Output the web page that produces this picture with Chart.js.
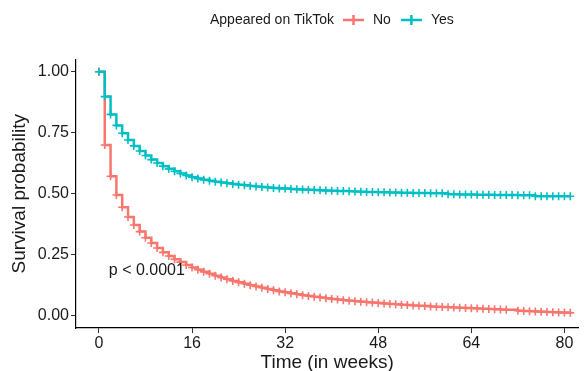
<!DOCTYPE html>
<html>
<head>
<meta charset="utf-8">
<script src="https://cdn.jsdelivr.net/npm/chart.js@4"></script>
<style>
  html, body { margin: 0; padding: 0; background: #fff; }
  #wrap { width: 584px; height: 371px; position: relative; }
</style>
</head>
<body>
<div id="wrap"><canvas id="km-chart"></canvas></div>
<script>
// weeks since first post
const weeks = [];
for (let w = 0; w <= 81; w++) weeks.push(w);

// Kaplan-Meier survival estimates
const survivalNo = [
  1.000, 0.700, 0.572, 0.495, 0.445, 0.405, 0.372, 0.345, 0.320, 0.298,
  0.278, 0.260, 0.245, 0.232, 0.220, 0.208, 0.198, 0.189, 0.180, 0.172,
  0.164, 0.157, 0.150, 0.143, 0.137, 0.131, 0.125, 0.120, 0.115, 0.110,
  0.105, 0.100, 0.096, 0.092, 0.088, 0.084, 0.081, 0.078, 0.075, 0.072,
  0.069, 0.067, 0.064, 0.062, 0.060, 0.058, 0.056, 0.054, 0.052, 0.050,
  0.048, 0.047, 0.045, 0.044, 0.042, 0.041, 0.040, 0.038, 0.037, 0.036,
  0.035, 0.034, 0.033, 0.032, 0.031, 0.030, 0.029, 0.028, 0.027, 0.026,
  0.025, null,  0.021, 0.020, 0.019, 0.018, 0.017, 0.016, 0.015, 0.014,
  0.013, 0.012
];
const survivalYes = [
  1.000, 0.898, 0.825, 0.780, 0.748, 0.720, 0.696, 0.675, 0.657, 0.640,
  0.626, 0.613, 0.602, 0.592, 0.583, 0.575, 0.568, 0.562, 0.557, 0.553,
  0.549, 0.546, 0.543, 0.540, 0.537, 0.535, 0.532, 0.530, 0.528, 0.526,
  0.524, 0.522, 0.521, 0.519, 0.518, 0.517, 0.516, 0.515, 0.514, 0.513,
  0.512, 0.511, 0.511, 0.510, 0.509, 0.508, 0.507, 0.507, 0.506, 0.506,
  0.505, 0.505, 0.504, 0.504, 0.503, 0.503, 0.503, 0.502, 0.502, 0.502,
  0.498, 0.498, 0.497, 0.497, 0.497, 0.496, 0.496, 0.496, 0.495, 0.495,
  0.495, 0.495, 0.494, 0.494, 0.494, 0.490, 0.490, 0.490, 0.490, 0.490,
  0.490, 0.490
];

const groupLabels = ['No', 'Yes'];
const groupColors = ['#F8766D', '#00BFC4'];
const legendTitle = 'Appeared on TikTok';
const xTicks = [0, 16, 32, 48, 64, 80];
const yTicks = [0, 0.25, 0.5, 0.75, 1];
const pValueText = 'p < 0.0001';

const FONT = '"Liberation Sans", Arial, Helvetica, sans-serif';
const INK = '#1a1a1a';

const toPoints = (vals) => weeks.map((w, i) => ({ x: w, y: vals[i] }));

// legend across the top, ggplot style
const topLegend = {
  id: 'topLegend',
  afterDraw(chart) {
    const ctx = chart.ctx;
    ctx.save();
    ctx.font = '14px ' + FONT;
    ctx.fillStyle = INK;
    ctx.textBaseline = 'middle';
    const y = 20;
    let x = 210;
    ctx.fillText(legendTitle, x, y);
    x += ctx.measureText(legendTitle).width + 9;
    groupLabels.forEach((label, i) => {
      ctx.strokeStyle = groupColors[i];
      ctx.lineWidth = 2.5;
      ctx.beginPath();
      ctx.moveTo(x, y);
      ctx.lineTo(x + 21, y);
      ctx.moveTo(x + 10.5, y - 5);
      ctx.lineTo(x + 10.5, y + 5);
      ctx.stroke();
      x += 30;
      ctx.fillStyle = INK;
      ctx.fillText(label, x, y);
      x += ctx.measureText(label).width + 10;
    });
    ctx.restore();
  }
};

// log-rank p value inside the panel
const pValueLabel = {
  id: 'pValueLabel',
  afterDatasetsDraw(chart) {
    const { ctx, scales } = chart;
    ctx.save();
    ctx.font = '16px ' + FONT;
    ctx.fillStyle = INK;
    ctx.textBaseline = 'middle';
    ctx.fillText(pValueText, scales.x.getPixelForValue(1.7), scales.y.getPixelForValue(0.185));
    ctx.restore();
  }
};

const dataset = (i, vals) => ({
  label: groupLabels[i],
  data: toPoints(vals),
  borderColor: groupColors[i],
  backgroundColor: groupColors[i],
  borderWidth: 2.5,
  stepped: true,
  spanGaps: true,
  fill: false,
  pointStyle: 'cross',
  pointRadius: 4,
  pointBorderWidth: 1.6,
  pointBorderColor: groupColors[i],
  order: i === 1 ? 0 : 1
});

const axisGrid = { display: true, drawOnChartArea: false, drawTicks: true, tickLength: 5, color: '#333', tickWidth: 1 };
const axisBorder = { display: true, color: '#000', width: 1.2 };

new Chart(document.getElementById('km-chart').getContext('2d'), {
  type: 'line',
  data: {
    datasets: [dataset(0, survivalNo), dataset(1, survivalYes)]
  },
  options: {
    responsive: true,
    maintainAspectRatio: false,
    animation: false,
    layout: { padding: { top: 59.5, right: 0, bottom: 0, left: 0 } },
    plugins: {
      legend: { display: false },
      tooltip: { enabled: false }
    },
    scales: {
      x: {
        type: 'linear',
        min: -3.94,
        max: 82.4,
        afterBuildTicks: (s) => { s.ticks = xTicks.map(v => ({ value: v })); },
        afterFit: (s) => { s.height = 43; },
        ticks: { font: { size: 16, family: FONT }, color: INK, padding: 1, autoSkip: false, maxRotation: 0 },
        grid: axisGrid,
        border: axisBorder,
        title: { display: true, text: 'Time (in weeks)', font: { size: 19, family: FONT }, color: INK, padding: { top: 0, bottom: -3 } }
      },
      y: {
        min: -0.05,
        max: 1.05,
        afterBuildTicks: (s) => { s.ticks = yTicks.map(v => ({ value: v })); },
        afterFit: (s) => { s.width = 76; },
        ticks: { font: { size: 16, family: FONT }, color: INK, padding: 2, callback: (v) => Number(v).toFixed(2) },
        grid: axisGrid,
        border: axisBorder,
        title: { display: true, text: 'Survival probability', font: { size: 19, family: FONT }, color: INK, padding: { top: 8, bottom: 0 } }
      }
    }
  },
  plugins: [topLegend, pValueLabel]
});
</script>
</body>
</html>
